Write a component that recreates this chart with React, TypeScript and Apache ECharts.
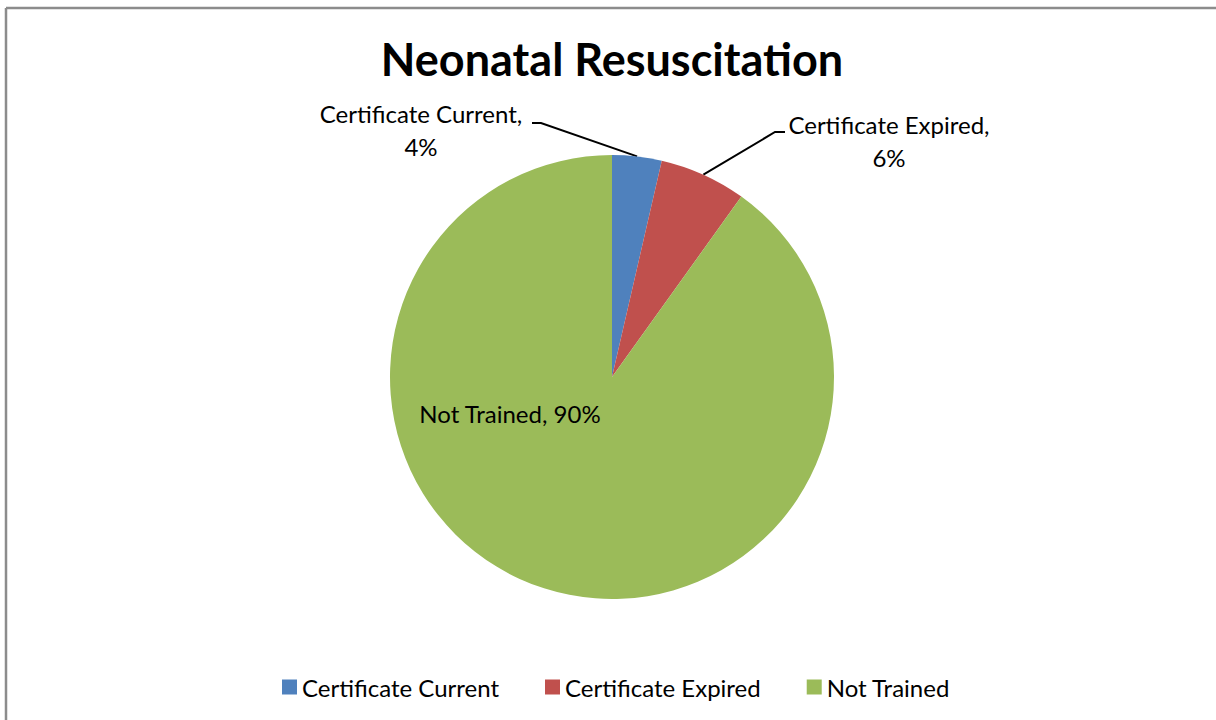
import React, { useEffect, useRef } from "react";
import * as echarts from "echarts";

const titleText = "Neonatal Resuscitation";
const categories = ["Certificate Current", "Certificate Expired", "Not Trained"];
const values = [3.6, 6.3, 90.1];
const colors = ["#4F81BD", "#C0504D", "#9BBB59"];

const FONT = "Lato, 'Noto Sans', sans-serif";

export default function App() {
  const ref = useRef<HTMLDivElement>(null);
  useEffect(() => {
    if (!ref.current) return;
    const chart = echarts.init(ref.current, undefined, { renderer: "svg" });
    const labelPos: Record<number, any> = {
      0: { x: 421, y: 130, line: [[541, 123], [532, 123]] },
      1: { x: 889, y: 141, line: [[775, 132], [785, 132]] },
      2: { x: 510, y: 413, line: null },
    };
    chart.setOption({
      animation: false,
      backgroundColor: "#ffffff",
      textStyle: { fontFamily: FONT },
      title: {
        text: titleText,
        left: 607,
        textAlign: "center",
        top: 31,
        textStyle: { fontFamily: FONT, fontSize: 45, fontWeight: "bold", color: "#000" },
      },
      legend: {
        data: categories,
        bottom: 16,
        left: 277,
        icon: "rect",
        itemWidth: 15,
        itemHeight: 15,
        itemGap: 46,
        textStyle: { fontFamily: FONT, fontSize: 24, color: "#000" },
      },
      graphic: [
        {
          type: "line",
          shape: { x1: 6, y1: 8, x2: 1300, y2: 8 },
          style: { stroke: "#8c8c8c", lineWidth: 2.5 },
          silent: true,
        },
        {
          type: "line",
          shape: { x1: 6, y1: 8, x2: 6, y2: 800 },
          style: { stroke: "#8c8c8c", lineWidth: 2.5 },
          silent: true,
        },
      ],
      series: [
        {
          type: "pie",
          center: [612, 377],
          radius: 222,
          startAngle: 90,
          clockwise: true,
          avoidLabelOverlap: false,
          color: colors,
          label: {
            show: true,
            position: "outside",
            fontFamily: FONT,
            fontSize: 24,
            color: "#000",
            lineHeight: 33,
            align: "center",
            formatter: (p: any) => {
              const pct = Math.round(p.percent) + "%";
              return p.dataIndex === 2 ? `${p.name}, ${pct}` : `${p.name},\n${pct}`;
            },
          },
          labelLine: { show: true, lineStyle: { color: "#000", width: 2 }, smooth: false },
          labelLayout: (params: any) => {
            const cfg = labelPos[params.dataIndex];
            const out: any = { x: cfg.x, y: cfg.y, align: "center", verticalAlign: "middle", moveOverlap: false };
            if (cfg.line && params.labelLinePoints) {
              out.labelLinePoints = [params.labelLinePoints[0], ...cfg.line];
            }
            return out;
          },
          data: categories.map((c, i) => ({
            name: c,
            value: values[i],
            labelLine: i === 2 ? { show: false } : undefined,
          })),
        },
      ],
    });
    return () => chart.dispose();
  }, []);
  return (
    <div
      ref={ref}
      style={{ position: "fixed", left: 0, top: 0, width: 1216, height: 720 }}
    />
  );
}
